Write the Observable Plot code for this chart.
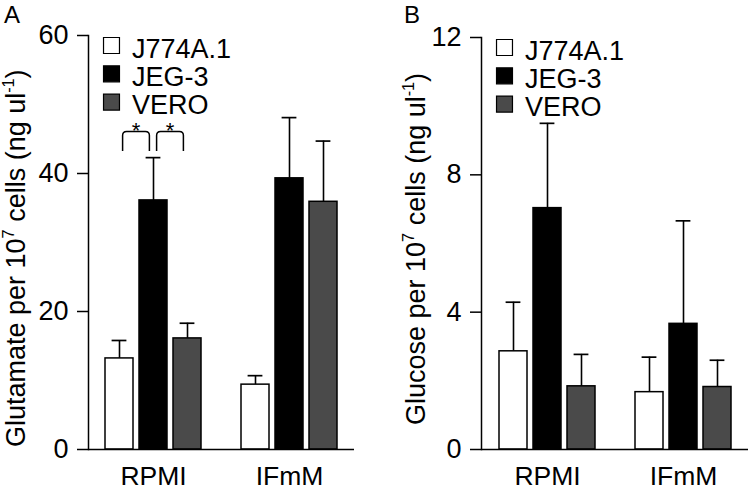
<!DOCTYPE html>
<html><head><meta charset="utf-8">
<script src="https://cdn.jsdelivr.net/npm/d3@7"></script>
<script src="https://cdn.jsdelivr.net/npm/@observablehq/plot@0.6"></script>
<style>
html,body{margin:0;padding:0;background:#fff;}
#wrap{display:flex;width:750px;height:490px;}
#wrap svg{display:block;}
#wrap g[aria-label="legend-text"] text{font-size:27px;}
</style></head><body>
<div id="wrap"></div>
<script>
// ---- data ----
const media = ["RPMI", "IFmM"];
const cellLines = ["J774A.1", "JEG-3", "VERO"];
const cellColors = ["#ffffff", "#000000", "#4a4a4a"];
// rows: media, columns: cell lines
const glutamateMean = [[13.2, 36.1, 16.1], [9.4, 39.3, 35.9]];
const glutamateErr  = [[2.6, 6.2, 2.2], [1.3, 8.8, 8.8]];
const glucoseMean   = [[2.86, 7.03, 1.84], [1.67, 3.66, 1.82]];
const glucoseErr    = [[1.43, 2.47, 0.93], [1.02, 3.0, 0.78]];
const glutamateTicks = [0, 20, 40, 60];
const glucoseTicks = [0, 4, 8, 12];
const glutamateSig = [
  {media: "RPMI", a: "J774A.1", b: "JEG-3", top: 46, bottom: 43.2, label: "*"},
  {media: "RPMI", a: "JEG-3", b: "VERO", top: 46, bottom: 43.2, label: "*"}
];
const glucoseSig = [];

const FONT = "'Liberation Sans', Arial, Helvetica, sans-serif";

const slotKeys = [];
media.forEach((m, i) => { if (i > 0) slotKeys.push("gap" + i); cellLines.forEach(c => slotKeys.push(m + "|" + c)); });

function makePanel(cfg) {
  const rows = [];
  media.forEach((m, i) => cellLines.forEach((c, j) => rows.push({
    media: m, cell: c, key: m + "|" + c,
    mean: cfg.means[i][j], upper: cfg.means[i][j] + cfg.errs[i][j]
  })));
  const legendMarks = cellLines.flatMap((c, i) => [
    Plot.dot([c], {frameAnchor: "top-left", dx: 23, dy: 10 + i * 28.3, symbol: "square", r: 9,
      fill: d => d, stroke: "black", strokeWidth: 1.2}),
    Plot.text([c], {frameAnchor: "top-left", dx: 43.5, dy: 13.4 + i * 28.3, text: d => d,
      textAnchor: "start", lineAnchor: "middle", fontSize: 27, fill: "black", ariaLabel: "legend-text"})
  ]);
  const plot = Plot.plot({
    width: 375, height: 490,
    marginLeft: cfg.marginLeft, marginRight: cfg.marginRight, marginTop: cfg.marginTop, marginBottom: 41,
    style: {fontFamily: FONT, background: "white", color: "black"},
    x: {type: "band", domain: slotKeys, paddingInner: 0.19, paddingOuter: 0.43, axis: null},
    y: {domain: [0, cfg.yMax], axis: null},
    color: {domain: cellLines, range: cellColors},
    marks: [
      Plot.ruleX(rows, {x: "key", y1: "mean", y2: "upper", stroke: "black", strokeWidth: 1.6}),
      Plot.tickY(rows, {x: "key", y: "upper", stroke: "black", strokeWidth: 1.7, insetLeft: 6.6, insetRight: 6.6}),
      Plot.barY(rows, {x: "key", y: "mean", fill: d => d.cell, stroke: "black", strokeWidth: 1.5}),
      Plot.frame({anchor: "left", stroke: "black", strokeWidth: 1.5}),
      Plot.ruleY([0], {stroke: "black", strokeWidth: 1.5}),
      Plot.axisY(cfg.ticks, {tickSize: 11, tickPadding: 9, fontSize: 27, label: null, strokeWidth: 1.5}),
      Plot.axisX(media.map(m => m + "|" + cellLines[1]), {tickSize: 0, tickPadding: 17, fontSize: 26.5,
        tickFormat: d => d.split("|")[0], label: null}),
      ...legendMarks
    ]
  });

  const svg = d3.select(plot);
  const xs = plot.scale("x");
  const ys = plot.scale("y");
  const cx = k => xs.apply(k) + xs.bandwidth / 2;

  // y-axis title with superscripts, fitted to span [titleTop, titleBottom]
  const t = svg.append("text")
    .attr("text-anchor", "start")
    .attr("font-family", FONT).attr("fill", "black");
  const parts = cfg.titleParts.map(p => t.append("tspan").text(p));
  const setSize = S => {
    t.attr("font-size", S);
    const sup = S * 0.6, sh = S * 0.4;
    parts[1].attr("font-size", sup).attr("dy", -sh);
    parts[2].attr("dy", sh);
    parts[3].attr("font-size", sup).attr("dy", -sh);
    parts[4].attr("dy", sh);
  };
  const target = cfg.titleBottom - cfg.titleTop;
  setSize(27);
  let bb = t.node().getBBox();
  if (bb.width > 0) setSize(27 * target / bb.width);
  bb = t.node().getBBox();
  t.attr("transform", `translate(${cfg.titleX},${cfg.titleBottom + bb.x}) rotate(-90)`);

  // panel letter
  svg.append("text").attr("x", cfg.letterX).attr("y", 23).attr("text-anchor", "start")
    .attr("font-family", FONT).attr("font-size", 24).attr("fill", "black").text(cfg.letter);

  // significance brackets
  cfg.sig.forEach(s => {
    const xL = cx(s.media + "|" + s.a) + 3.6;
    const xR = cx(s.media + "|" + s.b) - 3.6;
    const yT = ys.apply(s.top), yB = ys.apply(s.bottom), r = 4;
    svg.append("path")
      .attr("d", `M${xL},${yB}L${xL},${yT + r}Q${xL},${yT} ${xL + r},${yT}L${xR - r},${yT}Q${xR},${yT} ${xR},${yT + r}L${xR},${yB}`)
      .attr("fill", "none").attr("stroke", "black").attr("stroke-width", 1.5);
    svg.append("text").attr("x", (xL + xR) / 2).attr("y", yT + 6)
      .attr("text-anchor", "middle").attr("font-family", FONT).attr("font-size", 22)
      .attr("fill", "black").text(s.label);
  });
  return plot;
}

const wrap = document.getElementById("wrap");
wrap.appendChild(makePanel({
  means: glutamateMean, errs: glutamateErr, ticks: glutamateTicks, yMax: 60,
  marginLeft: 88, marginRight: 21, marginTop: 35,
  titleX: 25, titleTop: 38, titleBottom: 447, titleParts: ["Glutamate per 10", "7", " cells (ng ul", "-1", ")"],
  letter: "A", letterX: 4, sig: glutamateSig
}));
wrap.appendChild(makePanel({
  means: glucoseMean, errs: glucoseErr, ticks: glucoseTicks, yMax: 12,
  marginLeft: 106, marginRight: 2, marginTop: 37,
  titleX: 50, titleTop: 58, titleBottom: 425, titleParts: ["Glucose per 10", "7", " cells (ng ul", "-1", ")"],
  letter: "B", letterX: 29, sig: glucoseSig
}));
</script>
</body></html>
